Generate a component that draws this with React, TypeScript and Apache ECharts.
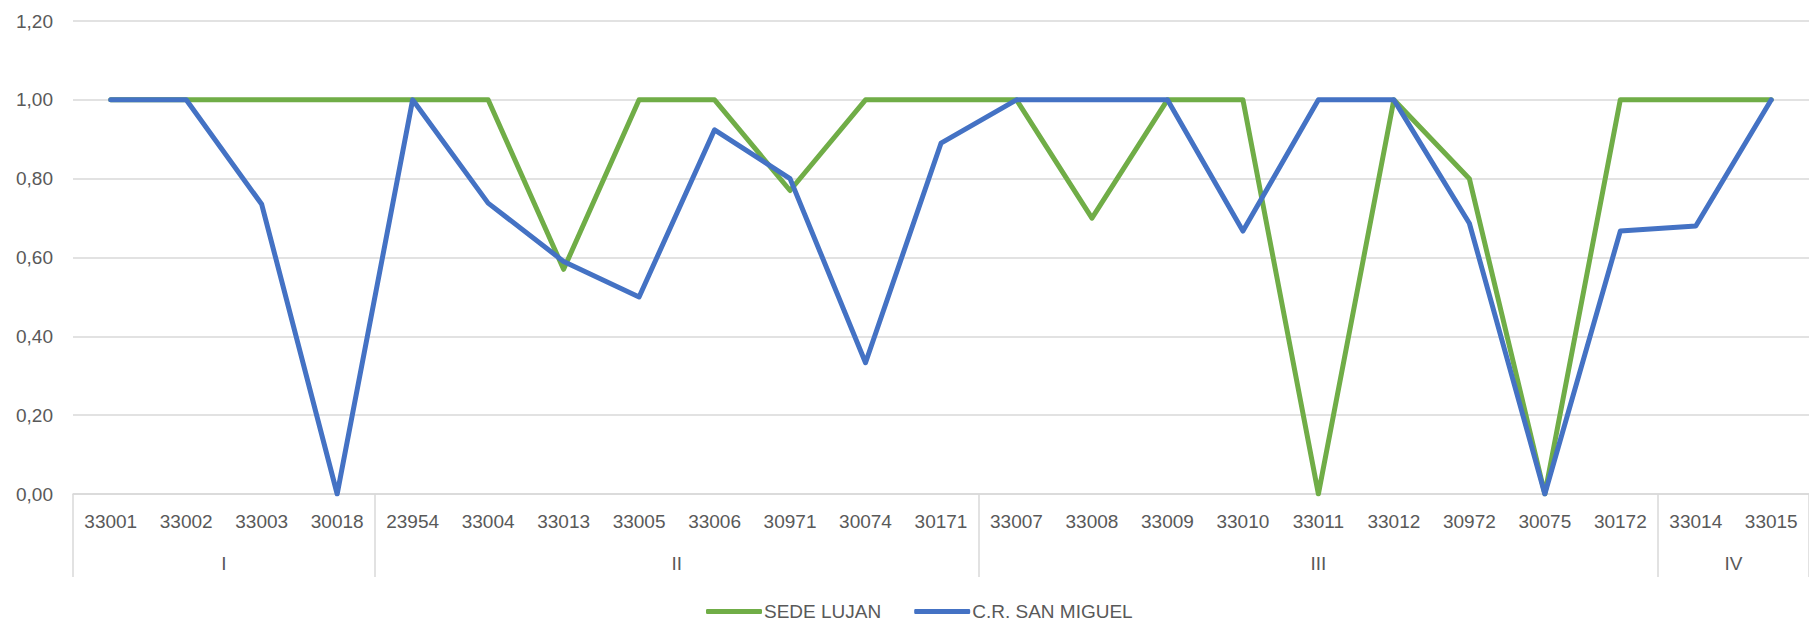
import React, { useEffect, useRef } from "react";
import * as echarts from "echarts";

const categories = [
  "33001", "33002", "33003", "30018",
  "23954", "33004", "33013", "33005", "33006", "30971", "30074", "30171",
  "33007", "33008", "33009", "33010", "33011", "33012", "30972", "30075", "30172",
  "33014", "33015",
];
const groupNames = ["I", "II", "III", "IV"];
const groupSizes = [4, 8, 9, 2];

const sedeLujan = [
  1, 1, 1, 1,
  1, 1, 0.57, 1, 1, 0.77, 1, 1,
  1, 0.7, 1, 1, 0, 1, 0.8, 0, 1,
  1, 1,
];
const crSanMiguel = [
  1, 1, 0.735, 0,
  1, 0.738, 0.59, 0.5, 0.924, 0.8, 0.333, 0.89,
  1, 1, 1, 0.667, 1, 1, 0.687, 0, 0.667,
  0.68, 1,
];
const yTicks = { min: 0, max: 1.2, interval: 0.2 };

const FONT = "'Liberation Sans', Arial, sans-serif";
const TEXT = "#595959";
const GRID = "#D9D9D9";
const FS = 19;

export default function App() {
  const ref = useRef<HTMLDivElement>(null);
  useEffect(() => {
    if (!ref.current) return;
    const chart = echarts.init(ref.current, null, { renderer: "svg" });

    const boundaries: number[] = [0];
    groupSizes.forEach((s) => boundaries.push(boundaries[boundaries.length - 1] + s));
    const centers = groupSizes.map((s, i) => boundaries[i] + s / 2);

    chart.setOption({
      animation: false,
      textStyle: { fontFamily: FONT },
      grid: { left: 73, right: 0, top: 21, bottom: 129, containLabel: false },
      legend: {
        data: ["SEDE LUJAN", "C.R. SAN MIGUEL"],
        left: 701,
        top: 597,
        icon: "roundRect",
        itemWidth: 56,
        itemHeight: 5,
        itemGap: 33,
        textStyle: { color: TEXT, fontSize: FS, fontFamily: FONT, padding: [0, 0, 0, -3] },
      },
      xAxis: [
        {
          type: "category",
          data: categories,
          boundaryGap: true,
          position: "bottom",
          axisLine: { show: true, lineStyle: { color: GRID, width: 1.5 } },
          axisTick: { show: false },
          axisLabel: { color: TEXT, fontSize: FS, fontFamily: FONT, margin: 18, interval: 0 },
          splitLine: { show: false },
        },
        {
          type: "value",
          min: 0,
          max: categories.length,
          position: "bottom",
          axisLine: { show: false },
          axisTick: {
            show: true,
            customValues: boundaries,
            length: 83,
            lineStyle: { color: GRID, width: 1.5 },
          },
          axisLabel: {
            show: true,
            customValues: centers,
            margin: 60,
            color: TEXT,
            fontSize: FS,
            fontFamily: FONT,
            formatter: (v: number) => {
              const idx = centers.findIndex((c) => Math.abs(c - v) < 1e-6);
              return idx >= 0 ? groupNames[idx] : "";
            },
          },
          splitLine: { show: false },
        },
      ],
      yAxis: {
        type: "value",
        min: yTicks.min,
        max: yTicks.max,
        interval: yTicks.interval,
        axisLine: { show: false },
        axisTick: { show: false },
        axisLabel: {
          color: TEXT,
          fontSize: FS,
          fontFamily: FONT,
          margin: 20,
          formatter: (v: number) => v.toFixed(2).replace(".", ","),
        },
        splitLine: { show: true, lineStyle: { color: GRID, width: 1.5 } },
      },
      series: [
        {
          name: "SEDE LUJAN",
          type: "line",
          xAxisIndex: 0,
          data: sedeLujan,
          symbol: "none",
          color: "#70AD47",
          lineStyle: { color: "#70AD47", width: 5, cap: "round", join: "round" },
        },
        {
          name: "C.R. SAN MIGUEL",
          type: "line",
          xAxisIndex: 0,
          data: crSanMiguel,
          symbol: "none",
          color: "#4472C4",
          lineStyle: { color: "#4472C4", width: 5, cap: "round", join: "round" },
        },
      ],
    });
    return () => chart.dispose();
  }, []);
  return (
    <div
      ref={ref}
      style={{ position: "absolute", left: 0, top: 0, width: 1809, height: 623, background: "#fff" }}
    />
  );
}
